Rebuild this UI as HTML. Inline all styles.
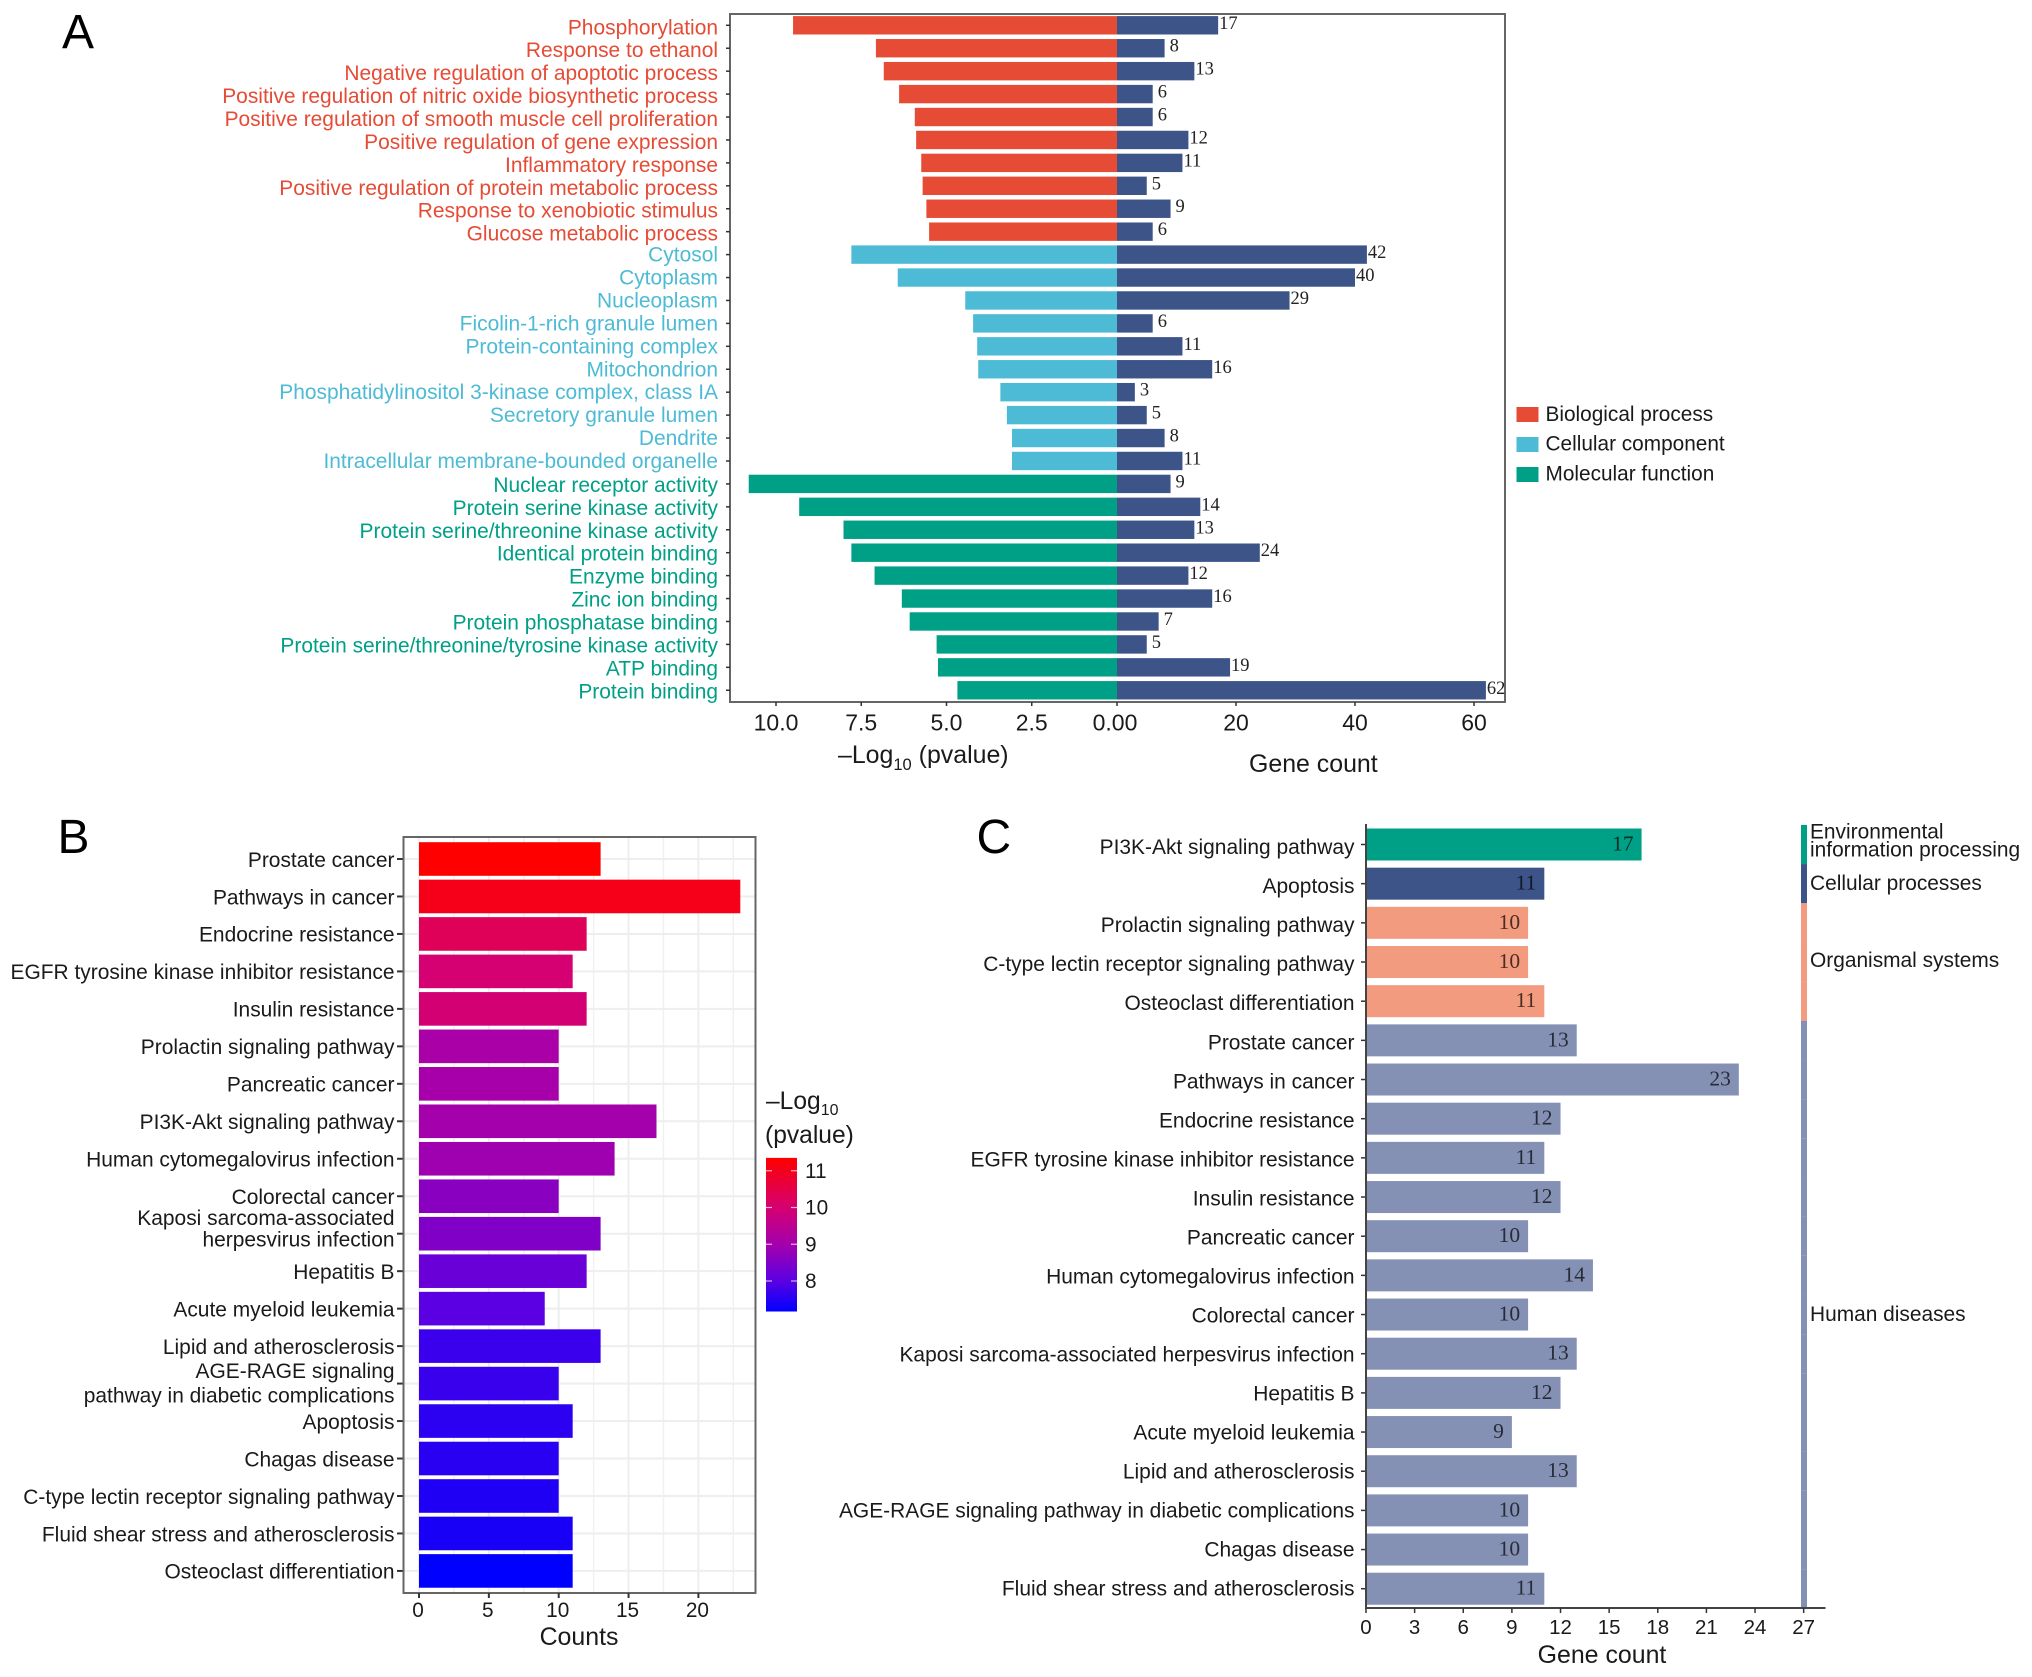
<!DOCTYPE html>
<html lang="en">
<head>
<meta charset="utf-8">
<title>Enrichment analysis panels</title>
<style>
html,body{margin:0;padding:0;background:#fff;}
svg{display:block;font-family:"Liberation Sans",Arial,sans-serif;}
</style>
</head>
<body>
<svg id="fig" xmlns="http://www.w3.org/2000/svg" width="2032" height="1677" viewBox="0 0 2032 1677"></svg>
<script>
/* ---------- Panel A data ---------- */
const aTerms = ["Phosphorylation","Response to ethanol","Negative regulation of apoptotic process","Positive regulation of nitric oxide biosynthetic process","Positive regulation of smooth muscle cell proliferation","Positive regulation of gene expression","Inflammatory response","Positive regulation of protein metabolic process","Response to xenobiotic stimulus","Glucose metabolic process","Cytosol","Cytoplasm","Nucleoplasm","Ficolin-1-rich granule lumen","Protein-containing complex","Mitochondrion","Phosphatidylinositol 3-kinase complex, class IA","Secretory granule lumen","Dendrite","Intracellular membrane-bounded organelle","Nuclear receptor activity","Protein serine kinase activity","Protein serine/threonine kinase activity","Identical protein binding","Enzyme binding","Zinc ion binding","Protein phosphatase binding","Protein serine/threonine/tyrosine kinase activity","ATP binding","Protein binding"];
const aLogP = [9.5,7.07,6.84,6.39,5.93,5.89,5.74,5.7,5.59,5.51,7.79,6.43,4.45,4.22,4.1,4.07,3.42,3.23,3.08,3.08,10.8,9.32,8.02,7.79,7.11,6.31,6.08,5.29,5.25,4.68];
const aCounts = [17,8,13,6,6,12,11,5,9,6,42,40,29,6,11,16,3,5,8,11,9,14,13,24,12,16,7,5,19,62];
const aCategory = ["BP","BP","BP","BP","BP","BP","BP","BP","BP","BP","CC","CC","CC","CC","CC","CC","CC","CC","CC","CC","MF","MF","MF","MF","MF","MF","MF","MF","MF","MF"];
const aLogTicks = ["10.0","7.5","5.0","2.5"];
const aCountTicks = [20,40,60];
const aLegend = ["Biological process","Cellular component","Molecular function"];
const aLegendKeys = ["BP","CC","MF"];

/* ---------- Panel B data ---------- */
const bTerms = ["Prostate cancer","Pathways in cancer","Endocrine resistance","EGFR tyrosine kinase inhibitor resistance","Insulin resistance","Prolactin signaling pathway","Pancreatic cancer","PI3K-Akt signaling pathway","Human cytomegalovirus infection","Colorectal cancer","Kaposi sarcoma-associated|herpesvirus infection","Hepatitis B","Acute myeloid leukemia","Lipid and atherosclerosis","AGE-RAGE signaling|pathway in diabetic complications","Apoptosis","Chagas disease","C-type lectin receptor signaling pathway","Fluid shear stress and atherosclerosis","Osteoclast differentiation"];
const bCounts = [13,23,12,11,12,10,10,17,14,10,13,12,9,13,10,11,10,10,11,11];
const bLogP = [11.35,11.05,10.3,10.0,9.95,9.1,9.05,9.0,8.93,8.63,8.5,8.2,7.99,7.7,7.69,7.57,7.54,7.45,7.39,7.17];
const bTicks = [0,5,10,15,20];
const bMinorTicks = [2.5,7.5,12.5,17.5,22.5];
const bLegendTicks = [11,10,9,8];

/* ---------- Panel C data ---------- */
const cTerms = ["PI3K-Akt signaling pathway","Apoptosis","Prolactin signaling pathway","C-type lectin receptor signaling pathway","Osteoclast differentiation","Prostate cancer","Pathways in cancer","Endocrine resistance","EGFR tyrosine kinase inhibitor resistance","Insulin resistance","Pancreatic cancer","Human cytomegalovirus infection","Colorectal cancer","Kaposi sarcoma-associated herpesvirus infection","Hepatitis B","Acute myeloid leukemia","Lipid and atherosclerosis","AGE-RAGE signaling pathway in diabetic complications","Chagas disease","Fluid shear stress and atherosclerosis"];
const cCounts = [17,11,10,10,11,13,23,12,11,12,10,14,10,13,12,9,13,10,10,11];
const cCategory = ["ENV","CP","OS","OS","OS","HD","HD","HD","HD","HD","HD","HD","HD","HD","HD","HD","HD","HD","HD","HD"];
const cTicks = [0,3,6,9,12,15,18,21,24,27];

/* ---------- Shared palette ---------- */
const palette = {BP:"#E64B35",CC:"#4DBBD5",MF:"#00A087",ENV:"#00A087",CP:"#3C5488",OS:"#F39B7F",HD:"#8491B4"};
const navy = "#3C5488";

/* ---------- Axis functions ---------- */
const xALog = v => 1117 - v * 34.1;
const xACount = v => 1117 + v * 5.95;
const yA = i => 25.3 + i * 22.93;
const xB = v => 419 + v * 13.97;
const yB = i => 859 + i * 37.47;
const yBar = v => 1281 - (v - 8) * 36.75;
const xC = v => 1366 + v * 16.21;
const yC = i => 844.5 + i * 39.17;
const yCLabel = i => yC(i) + 9.6 - 2.6 * i / 19;

function colorB(v){
  const t = Math.max(0, Math.min(1, (v - 7.17) / 4.18));
  const s = [[0,0,0,255],[0.2,92,0,226],[0.44,165,0,172],[0.68,214,0,112],[1,255,0,0]];
  for (let k = 1; k < s.length; k++){
    if (t <= s[k][0]){
      const f = (t - s[k-1][0]) / (s[k][0] - s[k-1][0]);
      const c = [1,2,3].map(j => Math.round(s[k-1][j] + f * (s[k][j] - s[k-1][j])));
      return "rgb(" + c.join(",") + ")";
    }
  }
  return "rgb(255,0,0)";
}

/* ---------- Drawing helpers ---------- */
const NS = "http://www.w3.org/2000/svg";
const fig = document.getElementById("fig");
function group(parent){
  const g = document.createElementNS(NS,"g");
  parent.appendChild(g);
  return g;
}
function rect(parent,x,y,w,h,fill){
  const r = document.createElementNS(NS,"rect");
  r.setAttribute("x",x); r.setAttribute("y",y);
  r.setAttribute("width",w); r.setAttribute("height",h);
  r.setAttribute("fill",fill);
  parent.appendChild(r);
  return r;
}
function line(parent,x1,y1,x2,y2,stroke,sw){
  const l = document.createElementNS(NS,"line");
  l.setAttribute("x1",x1); l.setAttribute("y1",y1);
  l.setAttribute("x2",x2); l.setAttribute("y2",y2);
  l.setAttribute("stroke",stroke); l.setAttribute("stroke-width",sw);
  parent.appendChild(l);
  return l;
}
function text(parent,x,y,str,size,fill,anchor,family){
  const t = document.createElementNS(NS,"text");
  t.setAttribute("x",x); t.setAttribute("y",y);
  t.setAttribute("font-size",size); t.setAttribute("fill",fill);
  t.setAttribute("text-anchor",anchor || "start");
  if (family) t.setAttribute("font-family",family);
  t.textContent = str;
  parent.appendChild(t);
  return t;
}
const SERIF = '"Liberation Serif",serif';
const INK = "#1a1a1a";
const TICK = "#333";
const FRAME = "#666";
const LABEL = 20.95;

/* ---------- Panel letters ---------- */
const letters = [["A",62,48],["B",57.5,853],["C",976.5,853]];
letters.forEach(p => {
  const t = text(fig,p[1],p[2],p[0],48,"#000");
  
  
});

/* ---------- Panel A ---------- */
const gA = group(fig);


const aFrame = rect(gA,730,14,775,688,"none");
aFrame.setAttribute("stroke",FRAME);
aFrame.setAttribute("stroke-width","2");


const aOffset = {BP:9,CC:7,MF:8};
aTerms.forEach((term,i) => {
  const y = yA(i), cat = aCategory[i];
  const lab = text(gA,718,y + aOffset[cat],term,LABEL,palette[cat],"end");
  
  
  const tk = line(gA,726,y,730,y,TICK,1.5);
  
  
  const left = rect(gA,xALog(aLogP[i]),y - 9.2,xALog(0) - xALog(aLogP[i]),18.4,palette[cat]);
  
  
  const right = rect(gA,xACount(0),y - 9.2,xACount(aCounts[i]) - xACount(0),18.4,navy);
  
  
  const val = text(gA,xACount(aCounts[i]) + (aCounts[i] < 10 ? 5 : 1),y + 3.5,String(aCounts[i]),18.5,"#222","start",SERIF);
  
  
});
aLogTicks.forEach(v => {
  const x = xALog(parseFloat(v));
  const tk = line(gA,x,702,x,706,TICK,1.5);
  
  
  const t = text(gA,x,730.7,v,23,INK,"middle");
  
  
});
const zeroTick = line(gA,xACount(0),702,xACount(0),706,TICK,1.5);


const zeroLab = text(gA,xACount(0) - 2,730.7,"0.00",23,INK,"middle");


aCountTicks.forEach(v => {
  const x = xACount(v);
  const tk = line(gA,x,702,x,706,TICK,1.5);
  
  
  const t = text(gA,x,730.7,String(v),23,INK,"middle");
  
  
});
const aLogTitle = text(gA,838,763,"",24.9,INK);
aLogTitle.innerHTML = '–Log<tspan dy="7" font-size="16.5">10</tspan><tspan dy="-7"> (pvalue)</tspan>';


const aCountTitle = text(gA,1249,772,"Gene count",24.9,INK);


aLegend.forEach((name,i) => {
  const sw = rect(gA,1516.5,407 + i * 30,22,15,palette[aLegendKeys[i]]);
  
  
  const t = text(gA,1545.5,421 + i * 29.7,name,20.8,INK);
  
  
});

/* ---------- Panel B ---------- */
const gB = group(fig);


bTicks.forEach(v => {
  const g1 = line(gB,xB(v),837,xB(v),1593,"#eeeeee",2);
  
  
});
bMinorTicks.forEach(v => {
  const g2 = line(gB,xB(v),837,xB(v),1593,"#f1f1f1",1.5);
  
  
});
bTerms.forEach((term,i) => {
  const y = yB(i);
  const gl = line(gB,403,y,756,y,"#eeeeee",2);
  
  
  const bar = rect(gB,xB(0),y - 16.8,xB(bCounts[i]) - xB(0),33.6,colorB(bLogP[i]));
  
  
  const tk = line(gB,397,y,403,y,TICK,2);
  
  
  const parts = term.split("|");
  if (parts.length === 1){
    const t = text(gB,394.5,y + 7.8,term,LABEL,INK,"end");
    
    
  } else {
    const up = i === 10 ? -8.5 : -5.5;
    const down = i === 10 ? 12.7 : 19;
    const t1 = text(gB,394.5,y + up,parts[0],LABEL,INK,"end");
    
    
    const t2 = text(gB,394.5,y + down,parts[1],LABEL,INK,"end");
    
    
  }
});
const bFrame = rect(gB,403.5,837,352,756,"none");
bFrame.setAttribute("stroke",FRAME);
bFrame.setAttribute("stroke-width","2");


bTicks.forEach(v => {
  const tk = line(gB,xB(v),1593,xB(v),1598,TICK,2);
  
  
  const t = text(gB,xB(v) - 1,1617,String(v),20.8,INK,"middle");
  
  
});
const bTitle = text(gB,579,1645,"Counts",24.9,INK,"middle");


const bLegTitle = text(gB,766,1109,"",24.6,INK);
bLegTitle.innerHTML = '–Log<tspan dy="6" font-size="16">10</tspan>';


const bLegTitle2 = text(gB,765,1143,"(pvalue)",24.6,INK);


const defs = document.createElementNS(NS,"defs");
fig.appendChild(defs);
const grad = document.createElementNS(NS,"linearGradient");
grad.setAttribute("id","cbar");
grad.setAttribute("x1","0"); grad.setAttribute("y1","1");
grad.setAttribute("x2","0"); grad.setAttribute("y2","0");
defs.appendChild(grad);
for (let k = 0; k <= 20; k++){
  const st = document.createElementNS(NS,"stop");
  st.setAttribute("offset",k / 20);
  st.setAttribute("stop-color",colorB(7.17 + 4.18 * k / 20));
  grad.appendChild(st);
}
const cbar = rect(gB,766,yBar(11.35),31,yBar(7.17) - yBar(11.35),"url(#cbar)");


bLegendTicks.forEach(v => {
  const y = yBar(v);
  const a = line(gB,766,y,772,y,"#ffffff",1.2);
  
  
  a.setAttribute("stroke-opacity","0.7");
  const b = line(gB,791,y,797,y,"#ffffff",1.2);
  
  
  b.setAttribute("stroke-opacity","0.7");
  const t = text(gB,805,y + 7,String(v),20.8,INK);
  
  
});

/* ---------- Panel C ---------- */
const gC = group(fig);


cTerms.forEach((term,i) => {
  const y = yC(i), cat = cCategory[i];
  const t = text(gC,1354.5,yCLabel(i),term,LABEL,INK,"end");
  
  
  const tk = line(gC,1361,y,1366,y,TICK,1.5);
  
  
  const bar = rect(gC,xC(0),y - 16,xC(cCounts[i]) - xC(0),32,palette[cat]);
  
  
  const val = text(gC,xC(cCounts[i]) - 8,y + 6,String(cCounts[i]),21.5,"#000","end",SERIF);
  val.setAttribute("fill-opacity","0.7");
  
  
  const seg = rect(gC,1801,y - 19.6,6,39.2,palette[cat]);
  
  
});
const cAxisY = line(gC,1366,824,1366,1609,"#444",2);


const cAxisX = line(gC,1365,1608,1825.5,1608,"#444",2);


cTicks.forEach(v => {
  const tk = line(gC,xC(v),1608,xC(v),1613,TICK,1.5);
  
  
  const t = text(gC,xC(v),1634,String(v),20.5,INK,"middle");
  
  
});
const cTitle = text(gC,1602,1663,"Gene count",24.9,INK,"middle");


const stripLabels = [["Environmental",838.5],["information processing",856.5],["Cellular processes",890],["Organismal systems",967],["Human diseases",1321]];
stripLabels.forEach(s => {
  const t = text(gC,1810,s[1],s[0],20.9,INK);
  
  
});
</script>
</body>
</html>
